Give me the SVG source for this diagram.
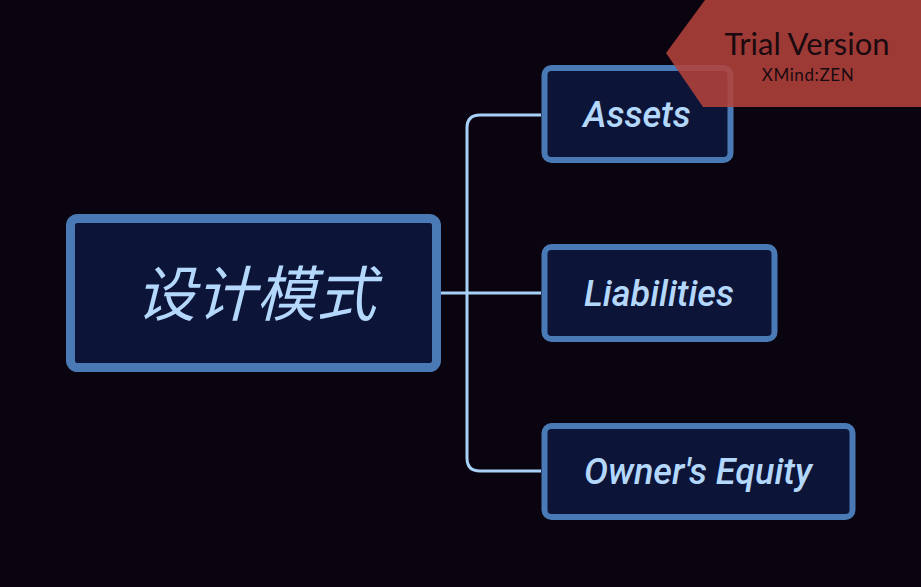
<svg xmlns="http://www.w3.org/2000/svg" width="921" height="587" viewBox="0 0 921 587">
<style>
.node{fill:#0c1438;stroke:#4a7ab5}
.lbl{font-family:Roboto,"Liberation Sans",sans-serif;font-style:italic;font-weight:500;fill:#b4d8fb;text-anchor:middle;dominant-baseline:central}
.conn{fill:none;stroke:#a9d1f7;stroke-width:3}
.wm{font-family:Lato,'Open Sans',sans-serif;fill:#1a0a10;text-anchor:middle}
</style>
<rect width="921" height="587" fill="#0a0410"/>
<g id="connectors">
<path class="conn" d="M441 293 H467 M541 115 H480 Q467 115 467 128 V458 Q467 471 480 471 H541 M467 293 H541"/>
</g>
<g id="root">
<rect class="node" x="70.5" y="218.5" width="366" height="149" rx="7" stroke-width="9"/>
<text class="lbl" x="256" y="289" font-size="60" style="font-family:'Noto Sans CJK SC',sans-serif;font-weight:400">设计模式</text>
</g>
<g id="assets">
<rect class="node" x="544.5" y="68" width="186" height="92" rx="7" stroke-width="6"/>
<text class="lbl" x="637" y="115" font-size="36">Assets</text>
</g>
<g id="liabilities">
<rect class="node" x="544.5" y="247" width="230" height="92" rx="7" stroke-width="6"/>
<text class="lbl" x="659" y="294" font-size="36">Liabilities</text>
</g>
<g id="equity">
<rect class="node" x="544.5" y="426" width="308" height="91" rx="7" stroke-width="6"/>
<text class="lbl" x="698" y="472" font-size="36">Owner's Equity</text>
</g>
<g id="watermark">
<polygon points="705,0 921,0 921,107 703,107 666,53" fill="#b3423a" opacity="0.88"/>
<text class="wm" x="807" y="55" font-size="31">Trial Version</text>
<text class="wm" x="808" y="81" font-size="17" letter-spacing="0.6">XMind:ZEN</text>
</g>
</svg>
